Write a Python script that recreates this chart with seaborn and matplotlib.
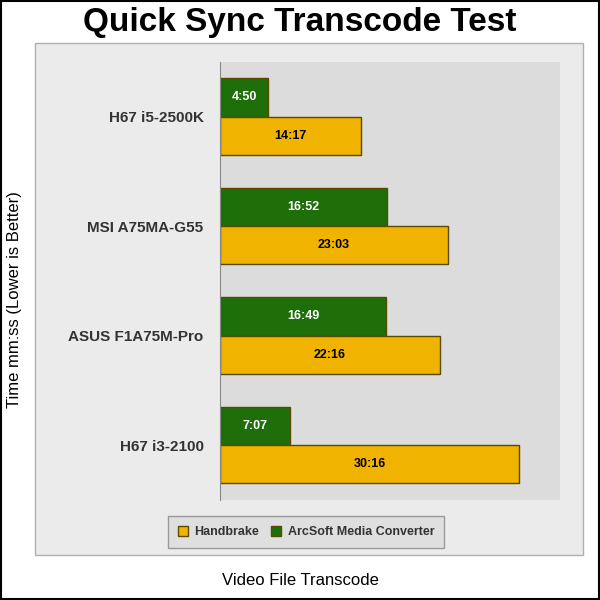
import matplotlib
matplotlib.use("Agg")
import matplotlib.pyplot as plt
import seaborn as sns
import pandas as pd
from matplotlib.patches import Rectangle, Patch

# data (seconds)
systems = ["H67 i5-2500K", "MSI A75MA-G55", "ASUS F1A75M-Pro", "H67 i3-2100"]
arcsoft = [290, 1012, 1009, 427]
handbrake = [857, 1383, 1336, 1816]

def mmss(s):
    return f"{s // 60}:{s % 60:02d}"

df = pd.DataFrame({
    "system": systems * 2,
    "secs": arcsoft + handbrake,
    "tool": ["ArcSoft Media Converter"] * 4 + ["Handbrake"] * 4,
})

green = "#1e6e0a"
yellow = "#f0b400"

sns.set_style("white")
plt.rcParams["font.family"] = ["Liberation Sans", "DejaVu Sans"]

fig = plt.figure(figsize=(6, 6), dpi=100)
fig.patches.append(Rectangle((0.002, 0.002), 0.996, 0.996, transform=fig.transFigure,
                             fill=False, edgecolor="black", linewidth=1.5, zorder=-2))
fig.patches.append(Rectangle((0.058, 0.075), 0.913, 0.853, transform=fig.transFigure,
                             facecolor="#ebebeb", edgecolor="#b0b0b0", linewidth=1, zorder=-1))

ax = fig.add_axes([0.367, 0.167, 0.566, 0.73])
ax.set_zorder(1)
ax.set_facecolor("#dcdcdc")
sns.barplot(data=df, y="system", x="secs", hue="tool",
            hue_order=["ArcSoft Media Converter", "Handbrake"],
            palette=[green, yellow], order=systems, width=0.7, saturation=1,
            edgecolor="#5a4a00", linewidth=1, legend=False, ax=ax)
ax.set_xlim(0, 2065)
ax.set_ylim(3.5, -0.5)
ax.set_xticks([])
ax.set_yticks(range(4))
ax.set_yticklabels(systems, fontsize=11, fontweight="bold", color="#333333")
ax.tick_params(axis="y", length=0, pad=12)
ax.set_yticks([-0.5, 0.5, 1.5, 2.5, 3.5], minor=True)
ax.tick_params(axis="y", which="minor", length=4, color="#555555")
for side in ["top", "right", "bottom"]:
    ax.spines[side].set_visible(False)
ax.spines["left"].set_color("#888888")
ax.set_xlabel("")
ax.set_ylabel("")

for i in range(4):
    ax.text(arcsoft[i] / 2, i - 0.175, mmss(arcsoft[i]), ha="center", va="center",
            color="white", fontsize=9, fontweight="bold")
    ax.text(handbrake[i] / 2, i + 0.175, mmss(handbrake[i]), ha="center", va="center",
            color="black", fontsize=9, fontweight="bold")

fig.text(0.5, 0.963, "Quick Sync Transcode Test", ha="center", va="center",
         fontsize=24, fontweight="bold", color="black")
fig.text(0.5, 0.033, "Video File Transcode", ha="center", va="center", fontsize=12,
         color="black")
fig.text(0.025, 0.5, "Time mm:ss (Lower is Better)", ha="center", va="center",
         fontsize=12, rotation=90, color="black")

handles = [Patch(facecolor=yellow, edgecolor="#5a4a00", label="Handbrake"),
           Patch(facecolor=green, edgecolor="#5a4a00", label="ArcSoft Media Converter")]
leg = fig.legend(handles=handles, loc="center", bbox_to_anchor=(0.51, 0.113), ncol=2,
                 frameon=True, fancybox=False, handlelength=0.8, handleheight=0.8,
                 prop={"weight": "bold", "size": 9}, columnspacing=1.0, handletextpad=0.5,
                 borderpad=0.8)
leg.get_frame().set_facecolor("#dcdcdc")
leg.get_frame().set_edgecolor("#888888")
for t in leg.get_texts():
    t.set_color("#333333")

fig.savefig("out.png", dpi=100)
